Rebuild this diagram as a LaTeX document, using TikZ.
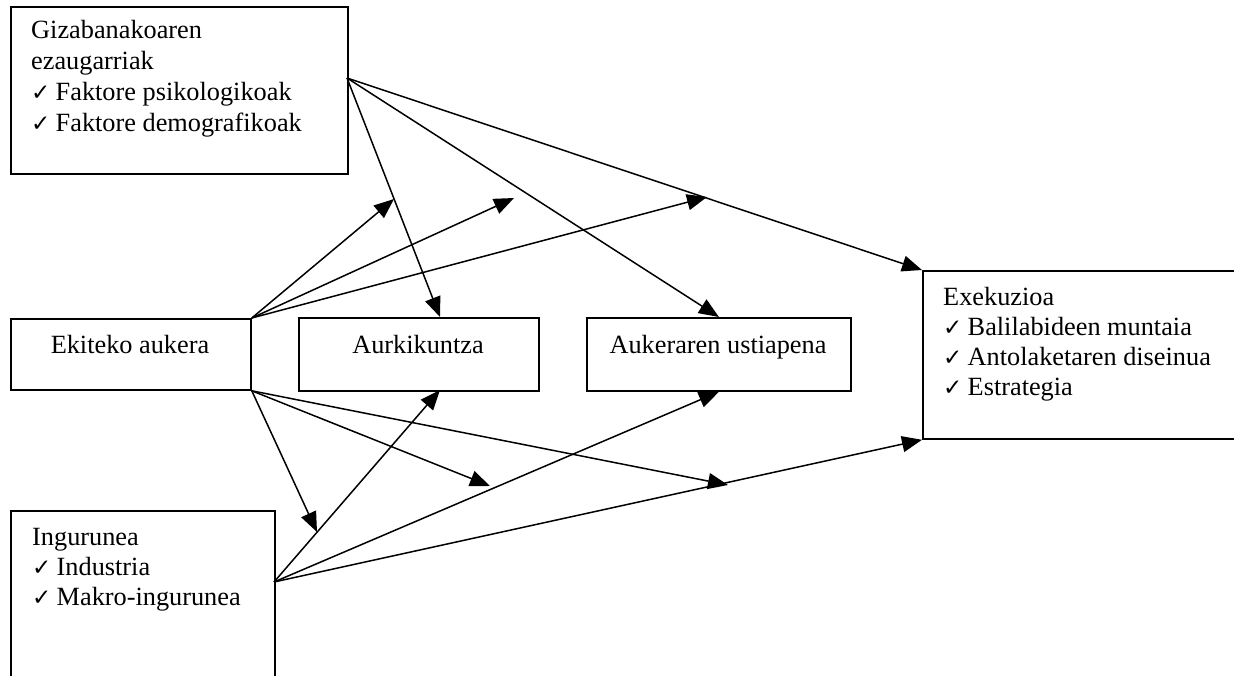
\documentclass[tikz,border=0pt]{standalone}
\usepackage{fontspec}
\setmainfont{Liberation Serif}
\newfontfamily\checkfont{DejaVu Sans}
\usetikzlibrary{arrows.meta}
\newcommand{\tick}{\makebox[24.5pt][l]{\checkfont\fontsize{23}{23}\selectfont ✓}}

\begin{document}
\begin{tikzpicture}[x=1pt,y=-1pt,
  box/.style={draw, line width=1.8pt, rectangle, inner sep=0pt, anchor=north west},
  txt/.style={font=\fontsize{26.3}{31}\selectfont, inner sep=0pt, align=left, anchor=base west},
  ctxt/.style={font=\fontsize{26.3}{31}\selectfont, inner sep=0pt, anchor=base},
  link/.style={line width=1.5pt, -{Triangle[length=20pt,width=16pt]}},
]
\useasboundingbox (0,0) rectangle (1234,676);
\clip (0,0) rectangle (1234,676);

% boxes
\node[box, minimum width=337pt, minimum height=167pt] (g) at (10,6) {};
\node[box, minimum width=240pt, minimum height=71pt]  (e) at (10,318) {};
\node[box, minimum width=240pt, minimum height=73pt]  (a) at (298,317) {};
\node[box, minimum width=264pt, minimum height=73pt]  (u) at (586,317) {};
\node[box, minimum width=340pt, minimum height=168pt] (x) at (922,270) {};
\node[box, minimum width=264pt, minimum height=200pt] (i) at (10,510) {};

% box texts (multi-line nodes sit on the baseline of their last line)
\node[txt] (gt) at (31,132) {Gizabanakoaren\\ezaugarriak\\\tick Faktore psikologikoak\\\tick Faktore demografikoak};
\node[ctxt] (et) at (130,353) {Ekiteko aukera};
\node[ctxt] (at) at (418,353) {Aurkikuntza};
\node[ctxt] (ut) at (718,353) {Aukeraren ustiapena};
\node[txt, font=\fontsize{26.3}{30}\selectfont] (xt) at (943,395) {Exekuzioa\\\tick Balilabideen muntaia\\\tick Antolaketaren diseinua\\\tick Estrategia};
\node[txt, font=\fontsize{26.3}{30}\selectfont] (it) at (32,605) {Ingurunea\\\tick Industria\\\tick Makro-ingurunea};

% ports and free ends
\coordinate (gp) at (347,78);
\coordinate (ip) at (274,582);
\coordinate (an) at (440,317);
\coordinate (as) at (440,390);
\coordinate (t1) at (394,199);
\coordinate (t2) at (514,198);
\coordinate (t3) at (707,197);
\coordinate (b1) at (317,532);
\coordinate (b2) at (490,486);
\coordinate (b3) at (728,485);

% connectors from the individual characteristics
\draw[link] (gp) -- (an);
\draw[link] (gp) -- (u.north);
\draw[link] (gp) -- (x.north west);

% connectors from the opportunity
\draw[link] (e.north east) -- (t1);
\draw[link] (e.north east) -- (t2);
\draw[link] (e.north east) -- (t3);
\draw[link] (e.south east) -- (b1);
\draw[link] (e.south east) -- (b2);
\draw[link] (e.south east) -- (b3);

% connectors from the environment
\draw[link] (ip) -- (as);
\draw[link] (ip) -- (u.south);
\draw[link] (ip) -- (x.south west);
\end{tikzpicture}
\end{document}
